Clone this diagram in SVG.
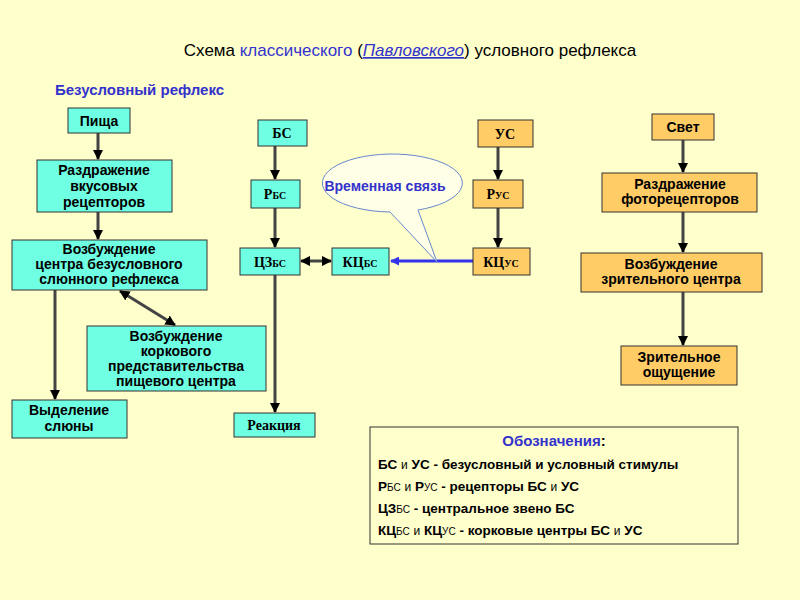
<svg xmlns="http://www.w3.org/2000/svg" width="800" height="600" viewBox="0 0 800 600">
<style>
.c{fill:#6FFFE3;stroke:#333;stroke-width:1}
.o{fill:#FFCC66;stroke:#333;stroke-width:1}
.t{font-family:"Liberation Sans",Arial,sans-serif;font-weight:bold;font-size:14px;text-anchor:middle;fill:#000}
.s{font-family:"Liberation Serif","Times New Roman",serif;font-weight:bold;font-size:14px;text-anchor:middle;fill:#000}
.sm{font-size:10px}
.a{stroke:#444;stroke-width:3;fill:none;marker-end:url(#ah)}
.l{font-family:"Liberation Sans",Arial,sans-serif;font-weight:bold;font-size:13.5px;fill:#000}
</style>
<defs>
<marker id="ah" viewBox="0 0 10 10" refX="9" refY="5" markerWidth="3.5" markerHeight="3.5" orient="auto-start-reverse"><path d="M0,0L10,5L0,10z" fill="#000"/></marker>
<marker id="bh" viewBox="0 0 10 10" refX="9" refY="5" markerWidth="3" markerHeight="3" orient="auto"><path d="M0,0L10,5L0,10z" fill="#3333EE"/></marker>
</defs>
<rect width="800" height="600" fill="#FFFFCC"/>
<text x="410" y="56" font-family="Liberation Sans,Arial,sans-serif" font-size="17" text-anchor="middle">Схема <tspan fill="#3333CC">классического</tspan> (<tspan fill="#3333CC" font-style="italic" text-decoration="underline">Павловского</tspan>) условного рефлекса</text>
<text x="55" y="95" font-family="Liberation Sans,Arial,sans-serif" font-size="15" font-weight="bold" fill="#3333CC">Безусловный рефлекс</text>
<g id="connectors">
<line class="a" x1="98" y1="133" x2="98" y2="159"/>
<line class="a" x1="98" y1="212" x2="98" y2="239"/>
<line class="a" x1="55" y1="290" x2="55" y2="399"/>
<line class="a" x1="120" y1="291" x2="175" y2="325" marker-start="url(#ah)"/>
<line class="a" x1="275" y1="146" x2="275" y2="179"/>
<line class="a" x1="275" y1="208" x2="275" y2="247"/>
<line class="a" x1="275" y1="275" x2="275" y2="412"/>
<line class="a" x1="301" y1="261" x2="331" y2="261" marker-start="url(#ah)"/>
<line x1="473" y1="261" x2="391" y2="261" stroke="#3333EE" stroke-width="3" marker-end="url(#bh)"/>
<line class="a" x1="498" y1="147" x2="498" y2="179"/>
<line class="a" x1="498" y1="208" x2="498" y2="247"/>
<line class="a" x1="683" y1="140" x2="683" y2="172"/>
<line class="a" x1="683" y1="212" x2="683" y2="252"/>
<line class="a" x1="683" y1="292" x2="683" y2="345"/>
</g>
<g id="bubble">
<path d="M390,212 A70,29 0 1 1 418,210 L437,262 Z" fill="#FFFFE8" stroke="#6688CC" stroke-width="1"/>
<text x="385" y="191" font-family="Liberation Sans,Arial,sans-serif" font-weight="bold" font-size="14" fill="#3333CC" text-anchor="middle">Временная связь</text>
</g>
<g id="pishcha"><rect class="c" x="68" y="108" width="62" height="25"/><text class="t" x="99" y="126">Пища</text></g>
<g id="vkus"><rect class="c" x="37" y="160" width="135" height="52"/><text class="t" x="104" y="175">Раздражение<tspan x="104" dy="16">вкусовых</tspan><tspan x="104" dy="16">рецепторов</tspan></text></g>
<g id="centr"><rect class="c" x="12" y="240" width="195" height="50"/><text class="t" x="109" y="254">Возбуждение<tspan x="109" dy="15">центра безусловного</tspan><tspan x="109" dy="15">слюнного рефлекса</tspan></text></g>
<g id="kora"><rect class="c" x="87" y="326" width="179" height="65"/><text class="t" x="176" y="341">Возбуждение<tspan x="176" dy="15">коркового</tspan><tspan x="176" dy="15">представительства</tspan><tspan x="176" dy="15">пищевого центра</tspan></text></g>
<g id="slyuna"><rect class="c" x="12" y="400" width="115" height="38"/><text class="t" x="69" y="415">Выделение<tspan x="69" dy="16">слюны</tspan></text></g>
<g id="bs"><rect class="c" x="258" y="120" width="49" height="26"/><text class="s" x="282" y="138">БС</text></g>
<g id="rbs"><rect class="c" x="251" y="180" width="49" height="28"/><text class="s" x="275" y="199">Р<tspan class="sm">БС</tspan></text></g>
<g id="czbs"><rect class="c" x="240" y="248" width="60" height="27"/><text class="s" x="270" y="267">ЦЗ<tspan class="sm">БС</tspan></text></g>
<g id="kcbs"><rect class="c" x="332" y="248" width="57" height="27"/><text class="s" x="360" y="267">КЦ<tspan class="sm">БС</tspan></text></g>
<g id="reak"><rect class="c" x="234" y="413" width="81" height="24"/><text class="s" x="274" y="430">Реакция</text></g>
<g id="us"><rect class="o" x="478" y="120" width="55" height="27"/><text class="s" x="505" y="139">УС</text></g>
<g id="rus"><rect class="o" x="473" y="180" width="50" height="28"/><text class="s" x="498" y="199">Р<tspan class="sm">УС</tspan></text></g>
<g id="kcus"><rect class="o" x="473" y="248" width="57" height="27"/><text class="s" x="501" y="267">КЦ<tspan class="sm">УС</tspan></text></g>
<g id="svet"><rect class="o" x="652" y="114" width="62" height="26"/><text class="t" x="683" y="132">Свет</text></g>
<g id="foto"><rect class="o" x="602" y="173" width="155" height="39"/><text class="t" x="680" y="189">Раздражение<tspan x="680" dy="15">фоторецепторов</tspan></text></g>
<g id="zrc"><rect class="o" x="581" y="253" width="181" height="39"/><text class="t" x="671" y="269">Возбуждение<tspan x="671" dy="15">зрительного центра</tspan></text></g>
<g id="zro"><rect class="o" x="621" y="346" width="116" height="39"/><text class="t" x="679" y="362">Зрительное<tspan x="679" dy="15">ощущение</tspan></text></g>
<g id="legend">
<rect x="370" y="427" width="368" height="117" fill="#FFFFCC" stroke="#333" stroke-width="1"/>
<text x="554" y="446" font-family="Liberation Sans,Arial,sans-serif" font-weight="bold" font-size="15" text-anchor="middle"><tspan fill="#3333CC">Обозначения</tspan>:</text>
<text class="l" x="378" y="469">БС <tspan font-weight="normal" font-size="12">и</tspan> УС - безусловный и условный стимулы</text>
<text class="l" x="378" y="491">Р<tspan font-weight="normal" font-size="10">БС</tspan> <tspan font-weight="normal" font-size="12">и</tspan> Р<tspan font-weight="normal" font-size="10">УС</tspan> - рецепторы БС <tspan font-weight="normal" font-size="12">и</tspan> УС</text>
<text class="l" x="378" y="513">ЦЗ<tspan font-weight="normal" font-size="10">БС</tspan> - центральное звено БС</text>
<text class="l" x="378" y="535">КЦ<tspan font-weight="normal" font-size="10">БС</tspan> <tspan font-weight="normal" font-size="12">и</tspan> КЦ<tspan font-weight="normal" font-size="10">УС</tspan> - корковые центры БС <tspan font-weight="normal" font-size="12">и</tspan> УС</text>
</g>
</svg>
